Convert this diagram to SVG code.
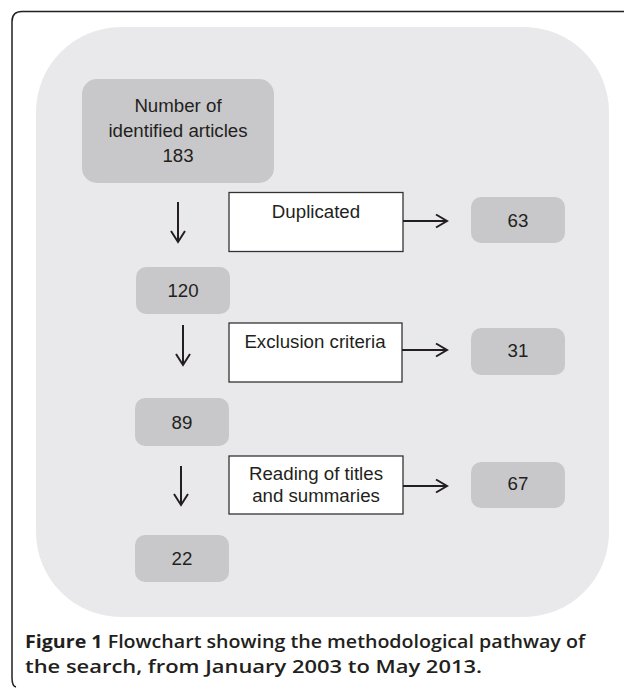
<svg xmlns="http://www.w3.org/2000/svg" width="624" height="688" viewBox="0 0 624 688">
<style>
.frame{fill:#fff;stroke:#231f20;stroke-width:1.5}
.bg{fill:#e9e9eb}
.g{fill:#c8c8ca}
.w{fill:#fff;stroke:#333;stroke-width:1.3}
.t{font-family:"Liberation Sans",Arial,sans-serif;font-size:18.7px;fill:#231f20;text-anchor:middle}
.c{font-family:"Open Sans","Noto Sans",sans-serif;font-size:18px;fill:#231f20;font-weight:600}
.b{font-weight:700}
.a{fill:none;stroke:#231f20;stroke-width:2}
</style>
<rect width="624" height="688" fill="#fff"/>
<path class="frame" d="M640,11.5 H22 Q12,11.5 12,21.5 V678 Q12,686 16,687"/>
<rect class="bg" x="36" y="27" width="573" height="590" rx="85" ry="85"/>
<g id="n183"><rect class="g" x="82" y="79" width="192" height="104" rx="15"/>
<text class="t" x="178" y="112">Number of</text><text class="t" x="178" y="137">identified articles</text><text class="t" x="178" y="162">183</text></g>
<g id="dup"><rect class="w" x="229" y="192.5" width="174" height="59"/><text class="t" x="316" y="218">Duplicated</text></g>
<g id="n63"><rect class="g" x="471" y="197" width="94" height="46" rx="10"/><text class="t" x="518" y="227">63</text></g>
<g id="n120"><rect class="g" x="136" y="267" width="94" height="47" rx="10"/><text class="t" x="183" y="297">120</text></g>
<g id="exc"><rect class="w" x="229" y="323" width="173" height="59"/><text class="t" x="315" y="348">Exclusion criteria</text></g>
<g id="n31"><rect class="g" x="471" y="328" width="94" height="47" rx="10"/><text class="t" x="518" y="357">31</text></g>
<g id="n89"><rect class="g" x="135" y="398" width="94" height="48" rx="10"/><text class="t" x="182" y="429">89</text></g>
<g id="read"><rect class="w" x="229" y="456" width="174" height="58"/><text class="t" x="316" y="480">Reading of titles</text><text class="t" x="316" y="502">and summaries</text></g>
<g id="n67"><rect class="g" x="471" y="462" width="94" height="46" rx="10"/><text class="t" x="518" y="490">67</text></g>
<g id="n22"><rect class="g" x="135" y="535" width="94" height="47" rx="10"/><text class="t" x="182" y="565">22</text></g>
<g id="connectors">
<path class="a" d="M178,202 V241 M171,231 L178,242 L185,231"/>
<path class="a" d="M183,325 V364 M176,354 L183,365 L190,354"/>
<path class="a" d="M181,466 V504 M174,494 L181,505 L188,494"/>
<path class="a" d="M403,221 H446 M436,214.5 L447,221 L436,227.5"/>
<path class="a" d="M402,350 H446 M436,343.5 L447,350 L436,356.5"/>
<path class="a" d="M403,486 H446 M436,479.5 L447,486 L436,492.5"/>
</g>
<text class="c" x="25" y="648" textLength="560" lengthAdjust="spacingAndGlyphs"><tspan class="b">Figure 1</tspan> Flowchart showing the methodological pathway of</text>
<text class="c" x="25" y="673" textLength="457" lengthAdjust="spacingAndGlyphs">the search, from January 2003 to May 2013.</text>
</svg>
